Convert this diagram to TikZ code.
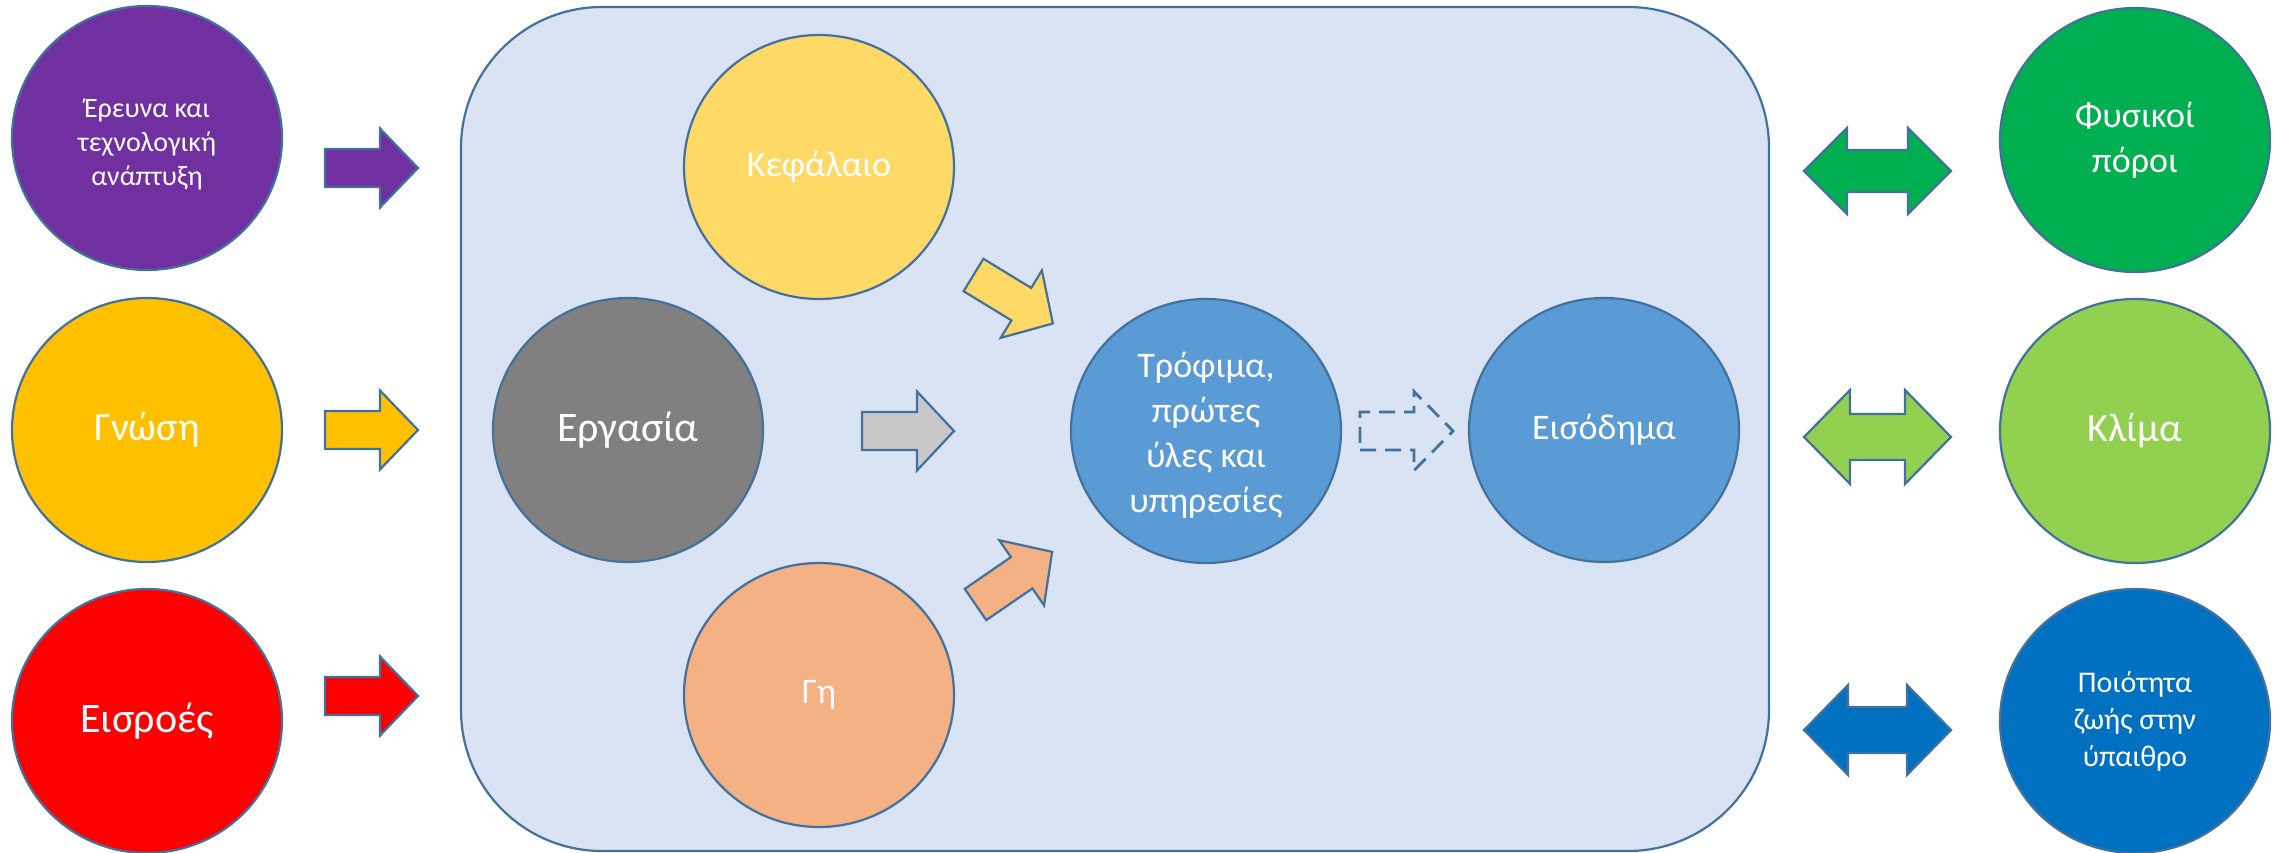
\documentclass[tikz,border=0pt]{standalone}
\usepackage{fontspec}
\setmainfont{Carlito}
\usetikzlibrary{shapes.geometric}
\definecolor{edge}{HTML}{41719C}
\definecolor{cPurple}{HTML}{7030A0}
\definecolor{cGold}{HTML}{FFC000}
\definecolor{cRed}{HTML}{FF0000}
\definecolor{cGray}{HTML}{808080}
\definecolor{cLGray}{HTML}{C8C8C8}
\definecolor{cLYellow}{HTML}{FFD966}
\definecolor{cPeach}{HTML}{F4B183}
\definecolor{cSky}{HTML}{5B9BD5}
\definecolor{cGreen}{HTML}{00B050}
\definecolor{cLGreen}{HTML}{92D050}
\definecolor{cBlue}{HTML}{0070C0}
\definecolor{cPanel}{HTML}{DAE3F3}
\newcommand{\fs}[2]{\fontsize{#1}{#2}\selectfont}
% single block arrow: #1 position, #2 angle, #3 style, #4 length, #5 head length
\newcommand{\blockarr}[5]{%
  \draw[#3, shift={#1}, rotate=#2] (0,19) -- ({#4-#5},19) -- ({#4-#5},39.5) -- (#4,0)
    -- ({#4-#5},-39.5) -- ({#4-#5},-19) -- (0,-19) -- cycle;}
% double block arrow: #1 centre, #2 style, #3 head length, #4 head half width, #5 shaft half width
\newcommand{\dblarr}[5]{%
  \draw[#2, shift={#1}] (-73.5,0) -- ({-73.5+#3},#4) -- ({-73.5+#3},#5) -- ({73.5-#3},#5)
    -- ({73.5-#3},#4) -- (73.5,0) -- ({73.5-#3},-#4) -- ({73.5-#3},-#5) -- ({-73.5+#3},-#5)
    -- ({-73.5+#3},-#4) -- cycle;}
\tikzset{
  blob/.style={ellipse, draw=edge, line width=2.2pt, minimum width=270pt, minimum height=264pt,
    inner sep=0pt, text=white, align=center},
  arr/.style={draw=edge, line width=2.2pt, line join=miter},
}
\begin{document}
\begin{tikzpicture}[x=1pt,y=-1pt]
\useasboundingbox (0,0) rectangle (2274,853);
% panel
\draw[fill=cPanel, draw=edge, line width=2.2pt, rounded corners=141pt] (461,7) rectangle (1769,851);
% left inputs
\node[blob, fill=cPurple, label={[text=white, align=center, font=\fs{28}{34}, yshift=-6pt]center:Έρευνα και\\τεχνολογική\\ανάπτυξη}] (research) at (147,138) {};
\node[blob, fill=cGold, font=\fs{40}{48}] (knowledge) at (147,430) {Γνώση};
\node[blob, fill=cRed, font=\fs{42}{50}] (inputs) at (147,721) {Εισροές};
% inside panel
\node[blob, fill=cLYellow, font=\fs{36}{44}] (capital) at (819,167) {Κεφάλαιο};
\node[blob, fill=cGray, font=\fs{42}{50}] (labour) at (628,430) {Εργασία};
\node[blob, fill=cPeach, font=\fs{36}{44}] (land) at (819,695) {Γη};
\node[blob, fill=cSky, label={[text=white, align=center, font=\fs{36}{45}, yshift=-4pt]center:Τρόφιμα,\\πρώτες\\ύλες και\\υπηρεσίες}] (food) at (1206,431) {};
\node[blob, fill=cSky, font=\fs{36}{44}] (income) at (1604,430) {Εισόδημα};
% right side
\node[blob, fill=cGreen, font=\fs{36}{45}] (natural) at (2135,140) {Φυσικοί\\πόροι};
\node[blob, fill=cLGreen, font=\fs{40}{48}] (climate) at (2135,431) {Κλίμα};
\node[blob, fill=cBlue, font=\fs{30}{37}] (quality) at (2135,721) {Ποιότητα\\ζωής στην\\ύπαιθρο};
% block arrows
\blockarr{(325,168)}{0}{arr, fill=cPurple}{93}{38}
\blockarr{(325,430)}{0}{arr, fill=cGold}{93}{38}
\blockarr{(325,696)}{0}{arr, fill=cRed}{93}{38}
\blockarr{(862,431)}{0}{arr, fill=cLGray}{92}{37}
\blockarr{(973.5,275)}{-31.4}{arr, fill=cLYellow}{93}{37}
\blockarr{(975.5,604.5)}{34.5}{arr, fill=cPeach}{93}{37}
\blockarr{(1360,431)}{0}{arr, line width=2.8pt, dash pattern=on 16pt off 9pt}{93}{39}
% double arrows
\dblarr{(1877.5,171)}{arr, fill=cGreen}{43}{43}{21}
\dblarr{(1877.5,437)}{arr, fill=cLGreen}{46}{47}{23}
\dblarr{(1877.5,730)}{arr, fill=cBlue}{44}{45}{23}
\end{tikzpicture}
\end{document}
